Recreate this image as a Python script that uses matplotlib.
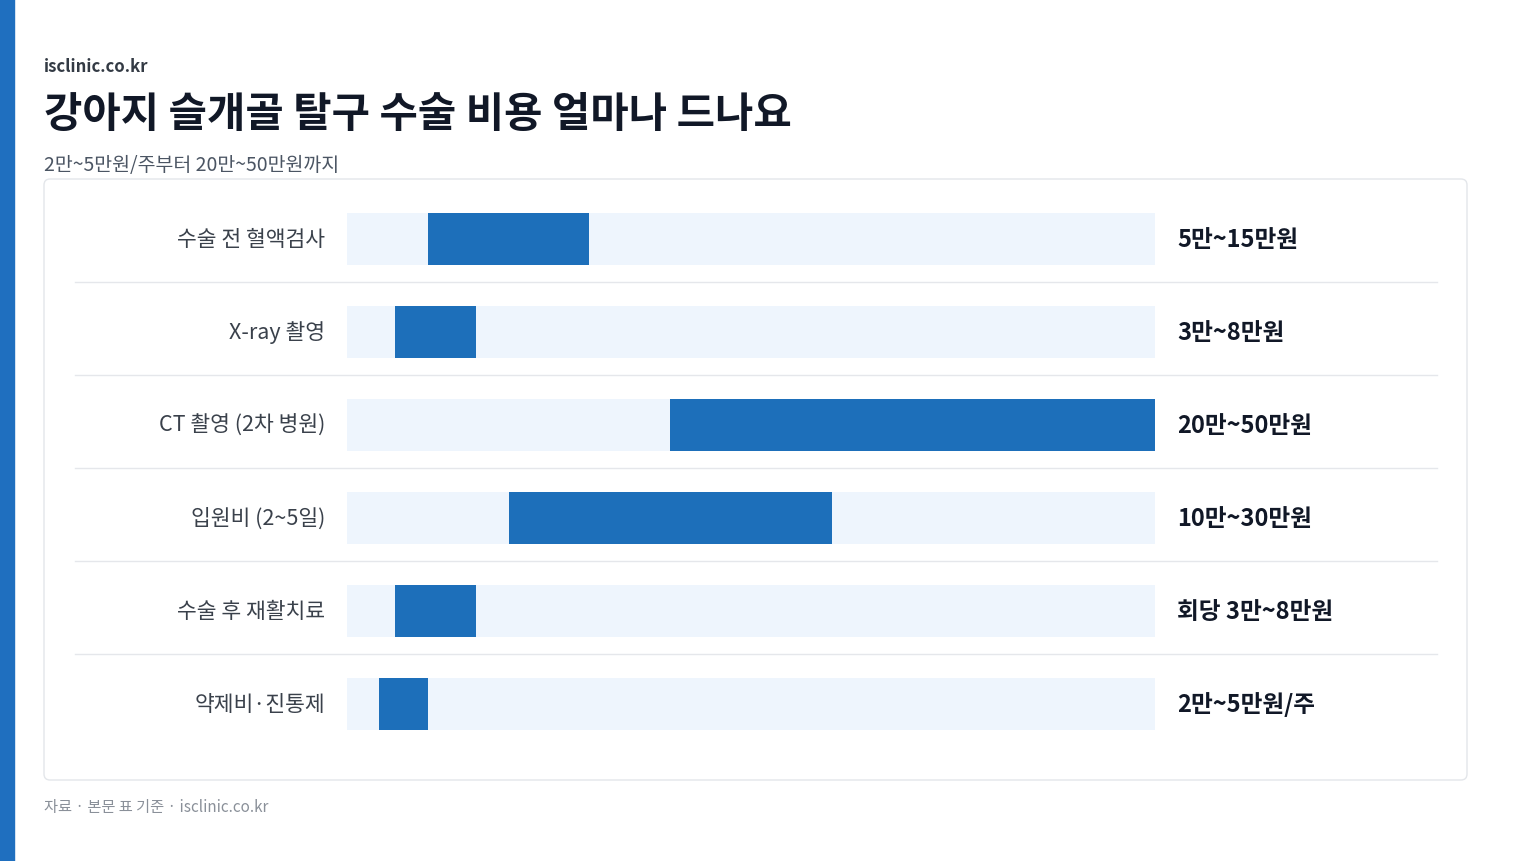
import matplotlib
matplotlib.use("Agg")
import matplotlib.pyplot as plt
from matplotlib.patches import Rectangle, FancyBboxPatch
from matplotlib.transforms import blended_transform_factory

plt.rcParams['font.family'] = ['Noto Sans CJK KR', 'DejaVu Sans']

categories = ["수술 전 혈액검사", "X-ray 촬영", "CT 촬영 (2차 병원)", "입원비 (2~5일)", "수술 후 재활치료", "약제비·진통제"]
low = [5, 3, 20, 10, 3, 2]
high = [15, 8, 50, 30, 8, 5]
value_labels = ["5만~15만원", "3만~8만원", "20만~50만원", "10만~30만원", "회당 3만~8만원", "2만~5만원/주"]
xmax = 50

W, H = 1536, 862
fig = plt.figure(figsize=(W/100, H/100), dpi=100)
bg = fig.add_axes([0, 0, 1, 1])
bg.set_xlim(0, W); bg.set_ylim(H, 0); bg.axis('off')
bg.add_patch(Rectangle((0, 0), 14, H, color='#1f6fbf'))
bg.add_patch(FancyBboxPatch((44, 180), 1423, 601, boxstyle="round,pad=0,rounding_size=6",
                            fc='white', ec='#e3e6ea', lw=1))
bg.text(44, 67, "isclinic.co.kr", fontsize=12, fontweight='bold', color='#333a44', va='center')
for i, ch in enumerate([]): pass
bg.text(44, 115, "강아지 슬개골 탈구 수술 비용 얼마나 드나요", fontsize=30, fontweight='bold', color='#111827', va='center')
bg.text(44, 166, "2만~5만원/주부터 20만~50만원까지", fontsize=14, color='#4b5563', va='center')
bg.text(44, 808, "자료 · 본문 표 기준 · isclinic.co.kr", fontsize=11, color='#8a9099', va='center')
for k in range(len(categories) - 1):
    y = 283 + 93 * k
    bg.plot([75, 1437], [y, y], color='#e5e7eb', lw=1)

ax = fig.add_axes([347/W, 1 - 731/H, (1155-347)/W, (731-214)/H])
ax.set_xlim(0, xmax); ax.set_ylim(5.28, -0.28); ax.axis('off')
n = len(categories)
h = 0.56
ax.barh(range(n), [xmax]*n, height=h, color='#eef5fd')
ax.barh(range(n), [b - a for a, b in zip(low, high)], left=low, height=h, color='#1d6fba')
tr = blended_transform_factory(bg.transData, ax.transData)
for i, (c, v) in enumerate(zip(categories, value_labels)):
    ax.text(325, i, c, transform=tr, ha='right', va='center', fontsize=15.5, color='#3a414b')
    ax.text(1177, i, v, transform=tr, ha='left', va='center', fontsize=17, fontweight='bold', color='#111827')

fig.savefig("out.png", dpi=100, facecolor='white')
